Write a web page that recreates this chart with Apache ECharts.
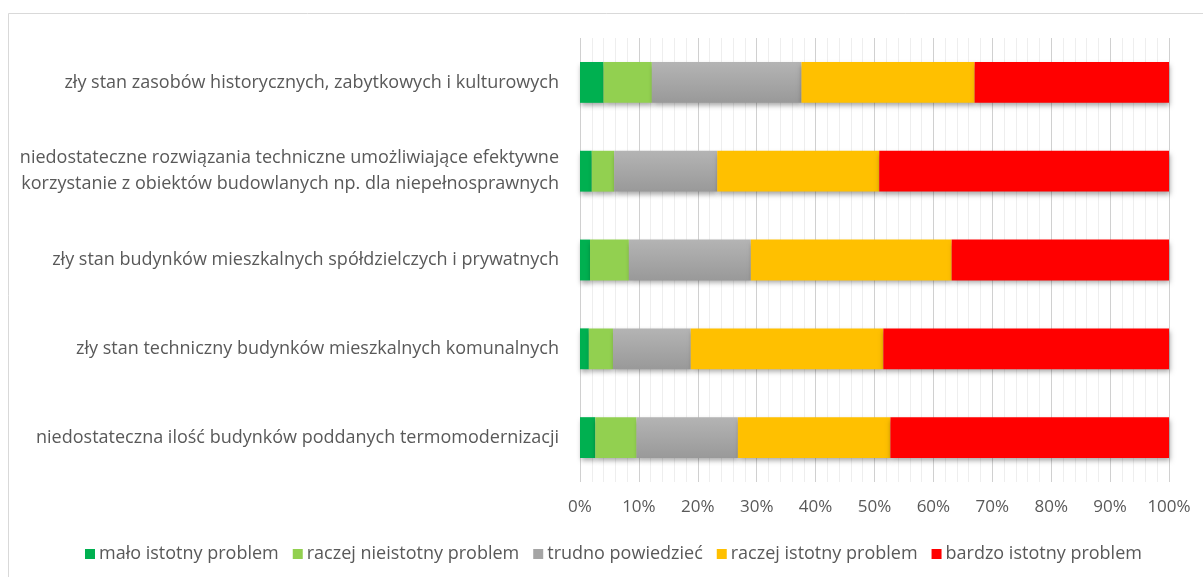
<!DOCTYPE html>
<html>
<head>
<meta charset="utf-8">
<script src="https://cdn.jsdelivr.net/npm/echarts@6/dist/echarts.min.js"></script>
<style>
  html, body { margin: 0; padding: 0; background: #fff; }
  #chart { width: 1203px; height: 577px; }
</style>
</head>
<body>
<div id="chart"></div>
<script>
// Problem categories, listed top to bottom
const categories = [
  'zły stan zasobów historycznych, zabytkowych i kulturowych',
  'niedostateczne rozwiązania techniczne umożliwiające efektywne\nkorzystanie z obiektów budowlanych np. dla niepełnosprawnych',
  'zły stan budynków mieszkalnych spółdzielczych i prywatnych',
  'zły stan techniczny budynków mieszkalnych komunalnych',
  'niedostateczna ilość budynków poddanych termomodernizacji'
];

// Share of answers (%) per category
const maloIstotny       = [4.0, 2.0, 1.7, 1.5, 2.6];
const raczejNieistotny  = [8.2, 3.8, 6.6, 4.1, 7.0];
const trudnoPowiedziec  = [25.4, 17.5, 20.7, 13.2, 17.2];
const raczejIstotny     = [29.4, 27.5, 34.1, 32.7, 25.9];
const bardzoIstotny     = [33.0, 49.2, 36.9, 48.5, 47.3];

const seriesNames = [
  'mało istotny problem',
  'raczej nieistotny problem',
  'trudno powiedzieć',
  'raczej istotny problem',
  'bardzo istotny problem'
];
const seriesData = [maloIstotny, raczejNieistotny, trudnoPowiedziec, raczejIstotny, bardzoIstotny];
const seriesColors = [
  '#00B050',
  '#92D050',
  new echarts.graphic.LinearGradient(0, 0, 0, 1, [
    { offset: 0, color: '#b4b4b4' },
    { offset: 1, color: '#999999' }
  ]),
  '#FFC000',
  '#FF0000'
];
const legendColors = ['#00B050', '#92D050', '#A5A5A5', '#FFC000', '#FF0000'];

const textColor = '#595959';
const fontFamily = '"Open Sans", "Noto Sans", sans-serif';

const chart = echarts.init(document.getElementById('chart'), null, { renderer: 'canvas' });

chart.setOption({
  animation: false,
  backgroundColor: '#ffffff',
  textStyle: { fontFamily: fontFamily },
  graphic: [{
    type: 'rect',
    shape: { x: 8.5, y: 13.5, width: 1210, height: 600 },
    style: { fill: 'none', stroke: '#d9d9d9', lineWidth: 1 },
    silent: true,
    z: -1
  }],
  grid: { left: 580, right: 34, top: 38, bottom: 95, containLabel: false },
  legend: {
    top: 540,
    left: 80,
    itemWidth: 10,
    itemHeight: 10,
    itemGap: 14,
    icon: 'rect',
    textStyle: { color: textColor, fontSize: 18, fontFamily: fontFamily, padding: [0, 0, 0, -1] },
    data: seriesNames.map((n, i) => ({ name: n, itemStyle: { color: legendColors[i], shadowBlur: 0 } }))
  },
  xAxis: {
    type: 'value',
    min: 0,
    max: 100,
    interval: 10,
    axisLine: { show: false },
    axisTick: { show: false },
    axisLabel: {
      formatter: '{value}%',
      color: textColor,
      fontSize: 17,
      margin: 17
    },
    splitLine: { show: true, lineStyle: { color: '#d0d0d0', width: 1 } },
    minorTick: { show: false, splitNumber: 5 },
    minorSplitLine: { show: true, lineStyle: { color: '#eeeeee', width: 1 } }
  },
  yAxis: {
    type: 'category',
    inverse: true,
    data: categories,
    axisLine: { show: false },
    axisTick: { show: false },
    axisLabel: {
      color: textColor,
      fontSize: 18,
      margin: 21,
      lineHeight: 26,
      align: 'right'
    }
  },
  series: seriesNames.map((name, i) => ({
    name: name,
    type: 'bar',
    stack: 'total',
    barCategoryGap: '54%',
    data: seriesData[i],
    itemStyle: {
      color: seriesColors[i],
      shadowColor: 'rgba(0,0,0,0.35)',
      shadowBlur: 5,
      shadowOffsetX: 1,
      shadowOffsetY: 3
    },
    emphasis: { disabled: true }
  }))
});
</script>
</body>
</html>
